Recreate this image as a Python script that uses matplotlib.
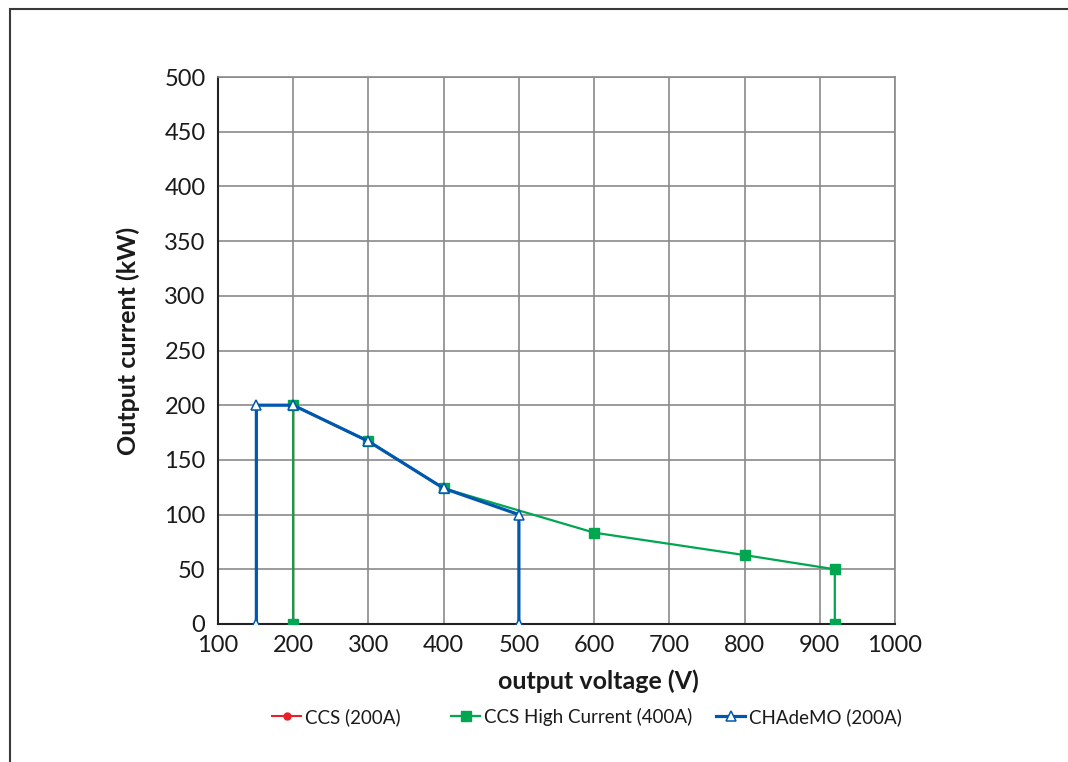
import matplotlib
matplotlib.use("Agg")
import matplotlib.pyplot as plt
from matplotlib.patches import Rectangle

plt.rcParams['font.family'] = ['Lato', 'DejaVu Sans']

# Data
ccs_v = [200, 200, 300, 400]
ccs_i = [0, 200, 167, 124]
hc_v = [200, 200, 300, 400, 600, 800, 920, 920]
hc_i = [0, 200, 167, 124, 83.5, 63, 50, 0]
cha_v = [151, 151, 200, 300, 400, 500, 500]
cha_i = [0, 200, 200, 167, 124, 100, 0]

labels = ['CCS (200A)', 'CCS High Current (400A)', 'CHAdeMO (200A)']
xticks = [100, 200, 300, 400, 500, 600, 700, 800, 900, 1000]
yticks = [0, 50, 100, 150, 200, 250, 300, 350, 400, 450, 500]

W, H = 1068, 762
fig = plt.figure(figsize=(W / 100, H / 100), dpi=100)

# outer frame (cropped)
fig.patches.append(Rectangle((10 / W, -0.1), 1.2, (H - 9) / H + 0.1,
                             transform=fig.transFigure, fill=False,
                             edgecolor='#3a3a3a', linewidth=1.5))

ax = fig.add_axes([218 / W, (H - 624) / H, (895 - 218) / W, (624 - 77) / H])

l1, = ax.plot(ccs_v, ccs_i, color='#e8202a', lw=1.5, marker='o', ms=5, zorder=2,
              label=labels[0])
l2, = ax.plot(hc_v, hc_i, color='#00a650', lw=1.6, marker='s', ms=6.5, zorder=3,
              label=labels[1])
l3, = ax.plot(cha_v, cha_i, color='#0057b0', lw=2.3, marker='^', ms=7,
              markerfacecolor='white', markeredgecolor='#0057b0', markeredgewidth=1.1,
              zorder=4, label=labels[2])

ax.set_xlim(100, 1000)
ax.set_ylim(0, 500)
ax.set_xticks(xticks)
ax.set_yticks(yticks)
ax.tick_params(axis='both', length=0, labelsize=17, colors='#1a1a1a')
ax.tick_params(axis='y', pad=9)
ax.tick_params(axis='x', pad=8)
ax.grid(True, color='#8a8a8a', linewidth=1.2)
ax.set_axisbelow(True)
for s in ['top', 'right']:
    ax.spines[s].set_color('#8a8a8a')
    ax.spines[s].set_linewidth(1.2)
for s in ['left', 'bottom']:
    ax.spines[s].set_color('#222222')
    ax.spines[s].set_linewidth(1.5)

fig.text(598 / W, (H - 681) / H, 'output voltage (V)', fontsize=18,
         fontweight='bold', color='#1a1a1a', ha='center', va='center')
fig.text(128 / W, (H - 341) / H, 'Output current (kW)', fontsize=18,
         fontweight='bold', color='#1a1a1a', ha='center', va='center',
         rotation=90)

# legend entries (individually placed)
for line, lab, x0 in zip([l1, l2, l3], labels, [272, 451, 716]):
    fig.legend([line], [lab], loc='center left',
               bbox_to_anchor=(x0 / W, (H - 717) / H), frameon=False,
               fontsize=13.5, handlelength=1.55, handletextpad=0.2,
               borderpad=0, borderaxespad=0, labelcolor='#1a1a1a')

fig.savefig('out.png', dpi=100)
